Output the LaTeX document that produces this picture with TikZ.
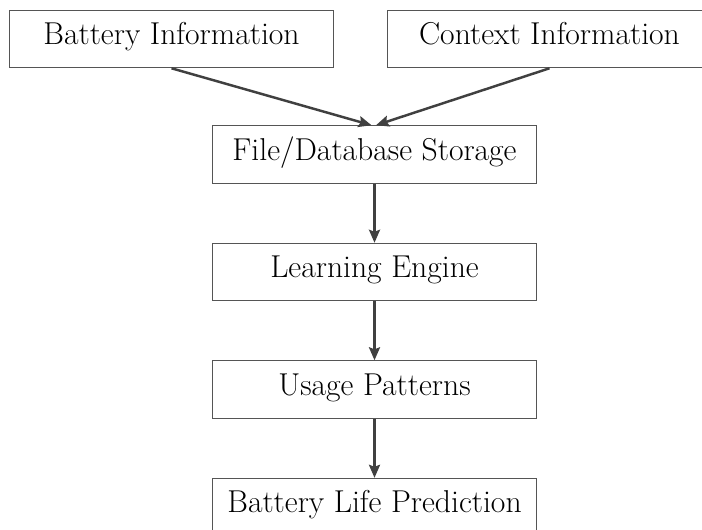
\documentclass[tikz,border=0pt]{standalone}
\usepackage{xcolor}
\usepackage{tikz}
\usetikzlibrary{arrows.meta}
\usetikzlibrary{positioning}

\definecolor{boxline}{HTML}{555555}
\definecolor{flowline}{HTML}{404040}

\tikzset{
  flowbox/.style={draw=boxline, line width=0.6pt, fill=white, inner sep=0pt,
    minimum width=6.48cm, minimum height=1.15cm, text height=2ex, text depth=0.45ex,
    font=\fontsize{18}{21}\selectfont},
  flow/.style={draw=flowline, line width=1.4pt,
    -{Stealth[length=0.26cm, width=0.22cm, inset=0.04cm]}},
}

\begin{document}
\begin{tikzpicture}[x=0.02cm, y=-0.02cm, node distance=1.18cm]
    \useasboundingbox (0,0) rectangle (702,529);
    \fill[white] (0,0) rectangle (702,529);
    \clip (0,0) rectangle (702,529);
    \node[flowbox] (bat) at (171.5,39) {Battery Information};
    \node[flowbox] (ctx) at (549.5,39) {Context Information};
    \node[flowbox] (store) at (374.5,154.5) {File/Database Storage};
    \node[flowbox, below=of store] (learn) {Learning Engine};
    \node[flowbox, below=of learn] (usage) {Usage Patterns};
    \node[flowbox, below=of usage] (pred) {Battery Life Prediction};
    \draw[flow] (bat.south) to ([xshift=-0.06cm]store.north);
    \draw[flow] (ctx.south) to ([xshift=0.03cm]store.north);
    \draw[flow] (store) to (learn);
    \draw[flow] (learn) to (usage);
    \draw[flow] (usage) to (pred);
  \end{tikzpicture}
\end{document}
